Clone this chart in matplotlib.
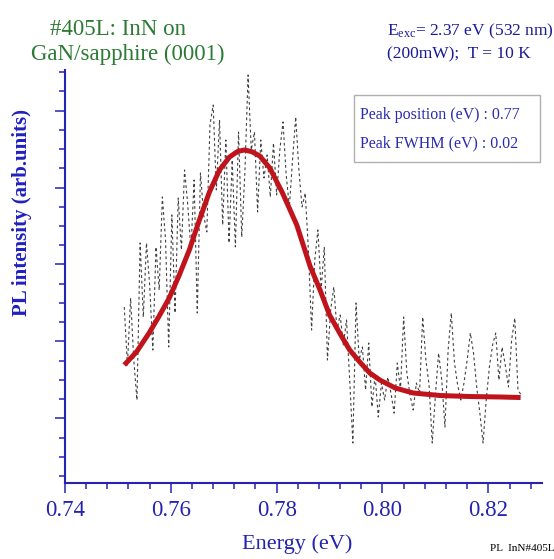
import numpy as np
import matplotlib
matplotlib.use("Agg")
import matplotlib.pyplot as plt
from matplotlib.ticker import MultipleLocator, FormatStrFormatter
from matplotlib.patches import Rectangle

plt.rcParams['font.family'] = ['Liberation Serif', 'DejaVu Serif']
plt.rcParams['mathtext.fontset'] = 'custom'
plt.rcParams['mathtext.rm'] = 'Liberation Serif'
plt.rcParams['mathtext.it'] = 'Liberation Serif:italic'

# datos medidos (PL, unidades arbitrarias)
energy = [
    0.7512, 0.7518, 0.7524, 0.7530, 0.7536, 0.7542, 0.7548, 0.7554, 0.7560, 0.7566,
    0.7572, 0.7578, 0.7584, 0.7590, 0.7596, 0.7602, 0.7608, 0.7614, 0.7620, 0.7626,
    0.7632, 0.7638, 0.7644, 0.7650, 0.7656, 0.7662, 0.7668, 0.7674, 0.7680, 0.7686,
    0.7692, 0.7698, 0.7704, 0.7710, 0.7716, 0.7722, 0.7728, 0.7734, 0.7740, 0.7746,
    0.7752, 0.7758, 0.7764, 0.7770, 0.7776, 0.7782, 0.7788, 0.7794, 0.7800, 0.7806,
    0.7812, 0.7818, 0.7824, 0.7830, 0.7836, 0.7842, 0.7848, 0.7854, 0.7860, 0.7866,
    0.7872, 0.7878, 0.7884, 0.7890, 0.7896, 0.7902, 0.7908, 0.7914, 0.7920, 0.7926,
    0.7932, 0.7938, 0.7944, 0.7950, 0.7956, 0.7962, 0.7968, 0.7974, 0.7980, 0.7986,
    0.7992, 0.7998, 0.8004, 0.8010, 0.8016, 0.8022, 0.8028, 0.8034, 0.8040, 0.8046,
    0.8052, 0.8058, 0.8064, 0.8070, 0.8076, 0.8082, 0.8088, 0.8094, 0.8100, 0.8106,
    0.8112, 0.8118, 0.8124, 0.8130, 0.8136, 0.8142, 0.8148, 0.8154, 0.8160, 0.8166,
    0.8172, 0.8178, 0.8184, 0.8190, 0.8196, 0.8202, 0.8208, 0.8214, 0.8220, 0.8226,
    0.8232, 0.8238, 0.8244, 0.8250, 0.8256, 0.8262]
pl_int = [
    2.447, 1.693, 2.564, 1.758, 1.238, 3.280, 2.317, 3.280, 2.733, 1.888,
    3.228, 2.668, 3.878, 3.319, 1.927, 3.644, 2.369, 3.865, 3.189, 4.229,
    3.774, 3.189, 4.099, 2.369, 4.190, 3.644, 3.423, 4.814, 5.074, 3.969,
    4.879, 3.514, 4.619, 3.280, 4.359, 3.228, 4.723, 3.358, 4.203, 5.464,
    4.489, 4.723, 3.683, 4.619, 4.125, 4.424, 3.878, 4.580, 3.904, 4.489,
    4.853, 4.164, 3.748, 4.359, 4.918, 4.229, 3.748, 3.930, 3.189, 2.148,
    3.059, 3.449, 2.668, 3.228, 1.758, 2.408, 2.707, 2.148, 2.343, 1.953,
    2.278, 1.498, 0.679, 2.499, 1.758, 1.927, 1.368, 1.979, 1.147, 1.563,
    1.017, 1.459, 1.238, 1.537, 1.329, 1.067, 1.719, 1.368, 2.317, 1.589,
    1.303, 1.108, 1.459, 1.329, 2.317, 1.758, 1.433, 0.679, 1.303, 1.849,
    1.498, 0.887, 1.888, 2.369, 1.719, 1.433, 1.238, 1.459, 1.758, 2.109,
    1.849, 1.407, 1.067, 0.679, 1.238, 1.667, 1.953, 2.109, 1.498, 1.927,
    1.693, 1.407, 2.018, 2.304, 1.368, 1.303]

# ajuste (curva roja)
fit_energy = [0.7512, 0.7535, 0.7559, 0.7578, 0.7597, 0.7616, 0.7635, 0.7654,
              0.7673, 0.7692, 0.7711, 0.7726, 0.7739, 0.7753, 0.7768, 0.7787,
              0.7811, 0.7838, 0.7863, 0.7882, 0.7900, 0.7919, 0.7938, 0.7957,
              0.7976, 0.7995, 0.8024, 0.8058, 0.8109, 0.8166, 0.8223, 0.8261]
fit_int = [1.693, 1.862, 2.109, 2.330, 2.564, 2.863, 3.189, 3.579,
           3.943, 4.229, 4.398, 4.469, 4.489, 4.467, 4.411, 4.255,
           3.930, 3.514, 2.980, 2.668, 2.343, 2.109, 1.888, 1.732,
           1.589, 1.498, 1.394, 1.329, 1.296, 1.283, 1.277, 1.270]

peak_pos = 0.77
peak_fwhm = 0.02

blue = '#2424b0'

fig = plt.figure(figsize=(5.54, 5.59), dpi=100)
ax = fig.add_axes([0.1173, 0.1360, 0.8616, 0.7388])

ax.plot(energy, pl_int, color='#404040', lw=0.8, linestyle=(0, (2.5, 2.5)))
ax.plot(fit_energy, fit_int, color='#c0141c', lw=3.6, solid_joinstyle='round',
        solid_capstyle='butt')

ax.set_xlim(0.74, 0.8302)
ax.set_ylim(0.159, 5.529)

for s in ['top', 'right']:
    ax.spines[s].set_visible(False)
for s in ['left', 'bottom']:
    ax.spines[s].set_color(blue)
    ax.spines[s].set_linewidth(1.5)

ax.xaxis.set_major_locator(MultipleLocator(0.02))
ax.xaxis.set_minor_locator(MultipleLocator(0.004))
ax.xaxis.set_major_formatter(FormatStrFormatter('%.2f'))
ax.yaxis.set_major_locator(MultipleLocator(1))
ax.yaxis.set_minor_locator(MultipleLocator(0.25))
ax.set_yticklabels([])

ax.tick_params(axis='both', which='major', direction='out', length=7.5, width=1.1,
               color=blue, labelcolor=blue, labelsize=16.5, pad=5)
ax.tick_params(axis='both', which='minor', direction='out', length=4, width=1.1,
               color=blue)

# textos
fig.text(21.7 / 554, 1 - 213 / 559, 'PL intensity (arb.units)', rotation=90,
         ha='center', va='center', fontsize=15, fontweight='bold', color='#2020c0')
fig.text(297 / 554, 1 - 549 / 559, 'Energy (eV)', ha='center', va='baseline',
         fontsize=16, color=blue)

green = '#2d7a34'
fig.text(118 / 554, 1 - 35 / 559, '#405L: InN on', ha='center', va='baseline',
         fontsize=16.5, color=green)
fig.text(128 / 554, 1 - 60 / 559, 'GaN/sapphire (0001)', ha='center', va='baseline',
         fontsize=16.5, color=green)

dblue = '#1a1a96'
fig.text(387 / 554, 1 - 35 / 559, r'E$_{\mathrm{exc}}$= 2.37 eV (532 nm)',
         ha='left', va='baseline', fontsize=12.5, color=dblue)
fig.text(387 / 554, 1 - 58 / 559, '(200mW);  T = 10 K',
         ha='left', va='baseline', fontsize=12.5, color=dblue)

fig.patches.append(Rectangle((354 / 554, 1 - 162 / 559), 186 / 554, 67 / 559,
                             transform=fig.transFigure, fill=False,
                             edgecolor='#b0b0b0', lw=1.0))
fig.text(360 / 554, 1 - 119 / 559, f'Peak position (eV) : {peak_pos:.2f}',
         ha='left', va='baseline', fontsize=11.5, color='#2b2bb0')
fig.text(360 / 554, 1 - 147 / 559, f'Peak FWHM (eV) : {peak_fwhm:.2f}',
         ha='left', va='baseline', fontsize=11.5, color='#2b2bb0')

fig.text(490 / 554, 1 - 551 / 559, 'PL  InN#405L', ha='left', va='baseline',
         fontsize=8, color='black')

fig.savefig('out.png', dpi=100)
